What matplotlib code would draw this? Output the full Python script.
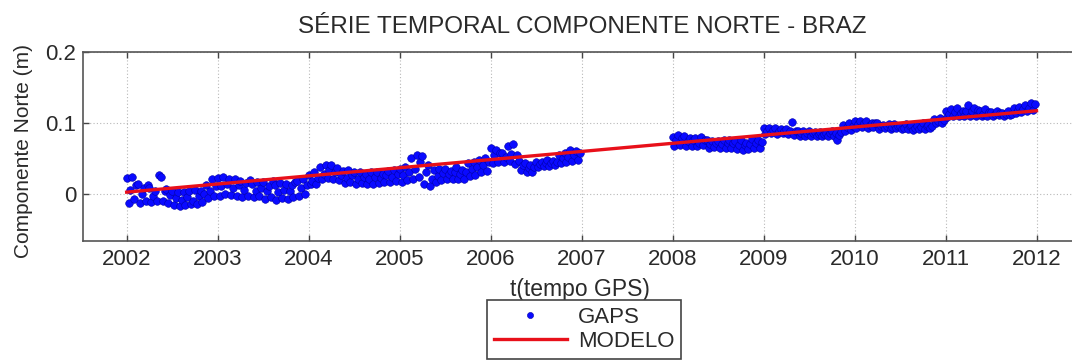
import numpy as np
import matplotlib
matplotlib.use("Agg")
import matplotlib.pyplot as plt

# North component of the BRAZ GPS station, in millimetres,
# 48 samples per year (no observations during 2007).
gaps_2002_mm = [22, -13, 5, 23, -8, 12, 14, -13, 0, 8, -10, 12,
                8, -12, -3, 4, -11, 26, 24, -10, 4, 6, -13, -2,
                3, -16, -6, 2, -17, -9, 2, -16, -5, 3, -15, -10,
                5, -15, -4, 4, -12, 0, 12, -6, 4, 20, -4, 10]
gaps_2003_mm = [22, -3, 10, 23, 0, 14, 20, -2, 8, 21, -3, 12,
                18, -5, 5, 15, -3, 19, 13, -5, 3, 17, -4, 8,
                17, -7, 4, 10, -5, 18, 12, -9, 2, 15, -6, 5,
                14, -7, 3, 12, -5, 16, 18, -4, 8, 20, 0, 12]
gaps_2004_mm = [26, 13, 18, 30, 14, 22, 38, 20, 28, 41, 22, 33,
                40, 21, 30, 36, 19, 26, 32, 15, 22, 33, 17, 26,
                30, 13, 20, 30, 15, 24, 28, 14, 20, 30, 13, 24,
                30, 15, 22, 28, 16, 26, 32, 16, 24, 33, 18, 27]
gaps_2005_mm = [35, 17, 26, 37, 19, 30, 50, 20, 35, 55, 24, 44,
                53, 14, 30, 40, 10, 20, 33, 17, 25, 35, 19, 29,
                35, 20, 28, 32, 21, 30, 37, 20, 28, 34, 20, 30,
                43, 25, 35, 45, 26, 38, 48, 30, 40, 50, 32, 44]
gaps_2006_mm = [65, 43, 55, 62, 44, 58, 58, 45, 52, 67, 46, 56,
                70, 42, 55, 46, 33, 40, 43, 30, 36, 41, 31, 38,
                45, 38, 42, 44, 39, 43, 47, 39, 43, 46, 40, 44,
                55, 43, 50, 57, 44, 52, 61, 46, 54, 60, 47, 57]
gaps_2008_mm = [80, 67, 75, 83, 68, 78, 81, 67, 74, 78, 67, 76,
                79, 67, 72, 80, 68, 75, 75, 65, 70, 74, 66, 72,
                74, 65, 70, 75, 65, 71, 76, 64, 71, 74, 63, 69,
                75, 61, 68, 72, 63, 70, 77, 65, 72, 76, 64, 73]
gaps_2009_mm = [92, 84, 88, 93, 85, 90, 93, 84, 89, 91, 85, 88,
                91, 84, 88, 101, 83, 89, 88, 81, 85, 88, 82, 86,
                88, 82, 85, 87, 81, 84, 87, 81, 84, 86, 82, 85,
                88, 82, 86, 75, 83, 87, 97, 89, 94, 100, 90, 96]
gaps_2010_mm = [102, 93, 98, 103, 94, 99, 103, 93, 97, 100, 94, 99,
                99, 91, 95, 97, 92, 96, 98, 91, 94, 98, 92, 95,
                96, 91, 93, 98, 91, 95, 97, 90, 93, 95, 91, 94,
                99, 91, 95, 97, 92, 96, 105, 99, 102, 107, 100, 104]
gaps_2011_mm = [117, 108, 112, 119, 109, 115, 121, 109, 114, 116, 110, 117,
                125, 109, 116, 121, 110, 118, 117, 109, 113, 119, 110, 115,
                115, 110, 112, 116, 111, 114, 114, 110, 112, 116, 111, 113,
                121, 114, 118, 123, 115, 119, 125, 116, 121, 128, 118, 126]

gaps_by_year = {
    2002: gaps_2002_mm, 2003: gaps_2003_mm, 2004: gaps_2004_mm,
    2005: gaps_2005_mm, 2006: gaps_2006_mm, 2008: gaps_2008_mm,
    2009: gaps_2009_mm, 2010: gaps_2010_mm, 2011: gaps_2011_mm,
}

# Linear velocity model
model_years = [2002.0, 2012.0]
model_north_m = [0.002, 0.117]

x_ticks = [2002, 2003, 2004, 2005, 2006, 2007, 2008, 2009, 2010, 2011, 2012]
y_ticks = [0.0, 0.1, 0.2]
y_tick_labels = ["0", "0.1", "0.2"]

t_list, n_list = [], []
for year, vals in gaps_by_year.items():
    k = len(vals)
    t_list.append(year + np.arange(k) / k)
    n_list.append(np.asarray(vals) / 1000.0)
t_obs = np.concatenate(t_list)
n_obs = np.concatenate(n_list)

plt.rcParams["font.family"] = ["Liberation Sans", "DejaVu Sans"]
text_color = "#2a2a2a"

W, H, DPI = 1072, 361, 100
fig = plt.figure(figsize=(W / DPI, H / DPI), dpi=DPI)
fig.patch.set_facecolor("white")

# axes box in pixels: left 83, right 1082 (runs off the canvas), top 52, bottom 241
ax = fig.add_axes([83 / W, 1 - 241 / H, (1082 - 83) / W, (241 - 52) / H])

ax.plot(t_obs, n_obs, linestyle="none", marker="o", markersize=5.5,
        markerfacecolor="#0a0aff", markeredgecolor="#0000a8",
        markeredgewidth=0.4, label="GAPS", zorder=3)
ax.plot(model_years, model_north_m, color="#e8101a", linewidth=2.4,
        label="MODELO", zorder=4)

ax.set_xlim(2001.52, 2012.5)
ax.set_ylim(-0.067, 0.2)
ax.set_xticks(x_ticks)
ax.set_xticklabels([str(x) for x in x_ticks])
ax.set_yticks(y_ticks)
ax.set_yticklabels(y_tick_labels)

ax.grid(True, linestyle=(0, (1, 2)), color="#b8b8b8", linewidth=0.8)
ax.set_axisbelow(True)
ax.tick_params(direction="in", length=4, width=1.0, color="#444444",
               top=True, right=True, labelsize=16, labelcolor=text_color)
ax.tick_params(axis="x", pad=6)
ax.tick_params(axis="y", pad=5)
for sp in ax.spines.values():
    sp.set_color("#555555")
    sp.set_linewidth(1.2)

ax.set_title("SÉRIE TEMPORAL COMPONENTE NORTE - BRAZ", fontsize=17.5,
             color=text_color, pad=14)
ax.set_xlabel("t(tempo GPS)", fontsize=16.5, color=text_color)
ax.xaxis.set_label_coords(0.4975, -0.198)
ax.set_ylabel("Componente Norte (m)", fontsize=15, color=text_color)
ax.yaxis.set_label_coords(-0.050, 0.475)

leg = fig.legend(loc="upper center", bbox_to_anchor=(584 / W, 1 - 300 / H),
                 fontsize=16, handlelength=3.3, handletextpad=0.5,
                 borderpad=0.3, labelspacing=0.15, fancybox=False,
                 framealpha=1.0, borderaxespad=0.0, markerscale=0.8)
leg.get_frame().set_edgecolor("#444444")
leg.get_frame().set_linewidth(1.2)
for txt in leg.get_texts():
    txt.set_color(text_color)

fig.savefig("out.png", dpi=DPI, facecolor="white")
